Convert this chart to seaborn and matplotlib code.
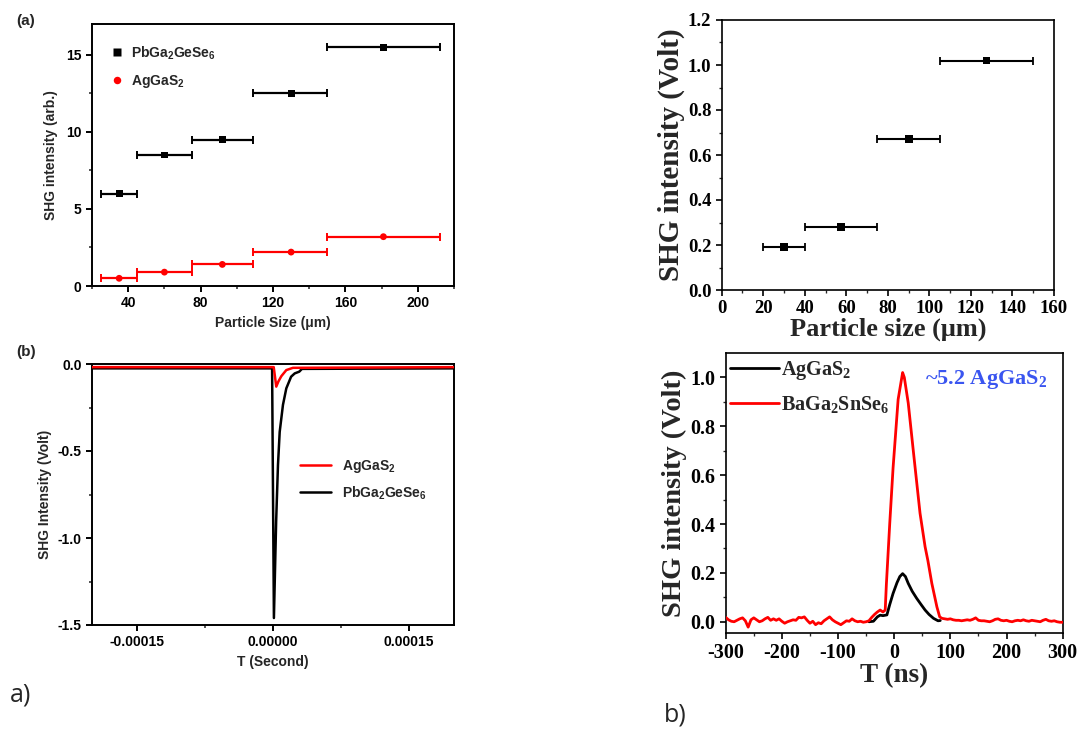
import numpy as np
import pandas as pd
import matplotlib
matplotlib.use("Agg")
import matplotlib.pyplot as plt
import seaborn as sns
from matplotlib.ticker import MultipleLocator, FixedLocator, StrMethodFormatter

# ---------------- data ----------------
# Panel (a): SHG vs particle size
a_size = [35, 60, 92, 130, 181]
a_size_lo = [25, 45, 75, 109, 150]
a_size_hi = [45, 75, 109, 150, 212]
a_pgs = [6.0, 8.5, 9.5, 12.5, 15.5]
a_ags = [0.5, 0.9, 1.4, 2.2, 3.2]

# Panel (b): oscilloscope traces (seconds, volts)
b_t_pgs = [-0.0002, -0.000001, 0.000001, 0.0000035, 0.0000055, 0.0000074,
           0.000011, 0.0000147, 0.00002, 0.000024, 0.000029, 0.000032, 0.0002]
b_v_pgs = [-0.025, -0.025, -1.46, -0.9, -0.58, -0.39,
           -0.235, -0.14, -0.073, -0.054, -0.044, -0.028, -0.025]
b_t_ags = [-0.0002, 0.0000008, 0.0000036, 0.000006, 0.0000092, 0.0000147, 0.000022, 0.0002]
b_v_ags = [-0.018, -0.018, -0.13, -0.1, -0.07, -0.035, -0.022, -0.018]

# Panel (c): SHG vs particle size
c_size = [30, 57.5, 90, 127.5]
c_size_lo = [20, 40, 75, 105]
c_size_hi = [40, 75, 105, 150]
c_int = [0.19, 0.28, 0.67, 1.02]

# Panel (d): oscilloscope traces (ns, volts)
d_t_bgs = [-300, -295, -290, -285, -280, -275, -270, -265, -260, -255, -250, -245,
           -240, -235, -230, -225, -220, -215, -210, -205, -200, -195, -190, -185,
           -180, -175, -170, -165, -160, -155, -150, -145, -140, -135, -130, -125,
           -120, -115, -110, -105, -100, -95, -90, -85, -80, -75, -70, -65, -60,
           -55, -50, -45, -40, -35, -30, -25, -20, -16, -14, -8, -2, 7, 15, 18,
           25, 34, 46, 55, 60, 67, 76, 81, 85, 90, 95, 100, 105, 110, 115, 120,
           125, 130, 135, 140, 145, 150, 155, 160, 165, 170, 175, 180, 185, 190,
           195, 200, 205, 210, 215, 220, 225, 230, 235, 240, 245, 250, 255, 260,
           265, 270, 275, 280, 285, 290, 295, 300]
d_v_bgs = [0.018, 0.008, 0.002, 0.0, 0.006, 0.012, 0.016, 0.004, -0.022, 0.008, 0.016, 0.008,
           0.0, 0.004, 0.012, 0.018, 0.006, 0.012, 0.006, 0.012, 0.002, -0.006, 0.0, 0.004,
           0.008, 0.006, 0.018, 0.016, 0.02, 0.006, -0.006, 0.002, -0.012, -0.004, -0.008, 0.004,
           0.012, 0.02, 0.008, 0.0, -0.006, -0.012, -0.004, 0.004, 0.002, 0.012, 0.004, 0.0, 0.002,
           -0.002, 0.0, 0.004, 0.018, 0.03, 0.04, 0.048, 0.04, 0.048, 0.15, 0.4, 0.63, 0.91, 1.02, 1.0,
           0.895, 0.70, 0.444, 0.307, 0.25, 0.157, 0.061, 0.02, 0.014, 0.012, 0.010, 0.012, 0.008, 0.006, 0.006, 0.004,
           0.006, 0.008, 0.006, 0.01, 0.016, 0.006, 0.004, 0.004, 0.002, 0.0, 0.004, 0.01, 0.012, 0.006,
           0.004, 0.006, 0.002, 0.0, 0.004, 0.006, 0.004, 0.008, 0.004, 0.002, 0.006, 0.004, 0.002, 0.0,
           0.006, 0.01, 0.004, 0.002, 0.004, 0.0, -0.002, -0.002]
d_t_ags = [-45, -37, -30, -25, -20, -13, -8, -2, 5, 10, 15, 20, 25, 32, 40, 48, 55, 62, 70, 78, 82]
d_v_ags = [0.0, 0.002, 0.02, 0.027, 0.025, 0.028, 0.07, 0.116, 0.16, 0.185, 0.197, 0.185,
           0.157, 0.125, 0.096, 0.07, 0.048, 0.03, 0.014, 0.004, 0.005]

# ---------------- style ----------------
sns.set_theme(style="ticks")
plt.rcParams["font.family"] = ["Liberation Sans", "DejaVu Sans"]
plt.rcParams["font.weight"] = "bold"
plt.rcParams["axes.labelweight"] = "bold"
plt.rcParams["mathtext.default"] = "regular"
plt.rcParams["axes.unicode_minus"] = False

W, H = 1079, 731
fig = plt.figure(figsize=(W / 100, H / 100), dpi=100)


def rect(x0, y0, x1, y1):
    return [x0 / W, 1 - y1 / H, (x1 - x0) / W, (y1 - y0) / H]


def style_axes(ax, lw, fam, tsize):
    for s in ax.spines.values():
        s.set_linewidth(lw)
        s.set_color("black")
    ax.tick_params(which="major", direction="out", length=4, width=lw,
                   labelsize=tsize, labelfontfamily=fam, colors="black")
    ax.tick_params(which="minor", direction="out", length=2.5, width=lw * 0.8)
    ax.tick_params(top=False, right=False, which="both")


# ---------- Panel (a) ----------
axA = fig.add_axes(rect(92, 24, 454, 286))
dfa = pd.DataFrame({"size": a_size * 2, "shg": a_pgs + a_ags,
                    "sample": ["PbGa$_2$GeSe$_6$"] * 5 + ["AgGaS$_2$"] * 5})
xerr = [np.array(a_size) - np.array(a_size_lo), np.array(a_size_hi) - np.array(a_size)]
axA.errorbar(a_size, a_pgs, xerr=xerr, fmt="none", ecolor="black", elinewidth=1.6,
             capsize=3, capthick=1.4)
axA.errorbar(a_size, a_ags, xerr=xerr, fmt="none", ecolor="red", elinewidth=1.6,
             capsize=3, capthick=1.4)
sns.scatterplot(data=dfa, x="size", y="shg", hue="sample", style="sample",
                palette={"PbGa$_2$GeSe$_6$": "black", "AgGaS$_2$": "red"},
                markers={"PbGa$_2$GeSe$_6$": "s", "AgGaS$_2$": "o"},
                s=24, edgecolor="none", ax=axA, zorder=3)
axA.set_xlim(20, 220)
axA.set_ylim(0, 17)
axA.xaxis.set_major_locator(MultipleLocator(40))
axA.xaxis.set_minor_locator(MultipleLocator(20))
axA.yaxis.set_major_locator(MultipleLocator(5))
axA.yaxis.set_minor_locator(MultipleLocator(2.5))
style_axes(axA, 1.4, "Liberation Sans", 10)
axA.set_xlabel("Particle Size (\u03bcm)", fontsize=10, fontweight="bold", labelpad=4)
axA.set_ylabel("SHG intensity (arb.)", fontsize=10, fontweight="bold", labelpad=6)
axA.legend(loc="upper left", bbox_to_anchor=(0.016, 0.97), frameon=False,
           fontsize=10, handlelength=1.0, handletextpad=0.5, labelspacing=0.8,
           markerscale=1.1)
fig.text(16 / W, 1 - 21 / H, "(a)", fontsize=11, fontweight="bold", va="center")

# ---------- Panel (b) ----------
axB = fig.add_axes(rect(92, 364, 454, 625))
dfb1 = pd.DataFrame({"t": b_t_pgs, "v": b_v_pgs})
dfb2 = pd.DataFrame({"t": b_t_ags, "v": b_v_ags})
sns.lineplot(data=dfb1, x="t", y="v", sort=False, estimator=None, color="black",
             lw=1.8, ax=axB, label="PbGa$_2$GeSe$_6$", zorder=2)
sns.lineplot(data=dfb2, x="t", y="v", sort=False, estimator=None, color="red",
             lw=1.8, ax=axB, label="AgGaS$_2$", zorder=3)
axB.set_xlim(-0.0002, 0.0002)
axB.set_ylim(-1.5, 0.0)
axB.xaxis.set_major_locator(FixedLocator([-0.00015, 0.0, 0.00015]))
axB.xaxis.set_minor_locator(FixedLocator([-0.000075, 0.000075]))
axB.xaxis.set_major_formatter(StrMethodFormatter("{x:.5f}"))
axB.yaxis.set_major_locator(MultipleLocator(0.5))
axB.yaxis.set_minor_locator(MultipleLocator(0.25))
axB.yaxis.set_major_formatter(StrMethodFormatter("{x:.1f}"))
style_axes(axB, 1.4, "Liberation Sans", 10)
axB.set_xlabel("T (Second)", fontsize=10, fontweight="bold", labelpad=4)
axB.set_ylabel("SHG Intensity (Volt)", fontsize=10, fontweight="bold", labelpad=4)
h, l = axB.get_legend_handles_labels()
axB.legend([h[1], h[0]], [l[1], l[0]], loc="center left", bbox_to_anchor=(0.54, 0.557),
           frameon=False, fontsize=10, handlelength=2.2, handletextpad=0.8, labelspacing=0.7)
fig.text(16 / W, 1 - 352 / H, "(b)", fontsize=11, fontweight="bold", va="center")

# ---------- Panel (c) ----------
axC = fig.add_axes(rect(721.7, 20, 1054, 290))
cerr = [np.array(c_size) - np.array(c_size_lo), np.array(c_size_hi) - np.array(c_size)]
axC.errorbar(c_size, c_int, xerr=cerr, fmt="none", ecolor="black", elinewidth=1.5,
             capsize=3, capthick=1.3)
sns.scatterplot(x=c_size, y=c_int, marker="s", color="black", s=32, edgecolor="none",
                ax=axC, zorder=3)
axC.set_xlim(0, 160)
axC.set_ylim(0, 1.2)
axC.xaxis.set_major_locator(MultipleLocator(20))
axC.xaxis.set_minor_locator(MultipleLocator(10))
axC.yaxis.set_major_locator(MultipleLocator(0.2))
axC.yaxis.set_minor_locator(MultipleLocator(0.1))
axC.yaxis.set_major_formatter(StrMethodFormatter("{x:.1f}"))
style_axes(axC, 1.2, "Liberation Serif", 13.5)
axC.set_xlabel("Particle size (\u03bcm)", fontsize=19, fontweight="bold",
               fontfamily="Liberation Serif", labelpad=0)
axC.set_ylabel("SHG intensity (Volt)", fontsize=21, fontweight="bold",
               fontfamily="Liberation Serif", labelpad=2)

# ---------- Panel (d) ----------
axD = fig.add_axes(rect(725.7, 353, 1062.7, 633))
dfd1 = pd.DataFrame({"t": d_t_ags, "v": d_v_ags})
dfd2 = pd.DataFrame({"t": d_t_bgs, "v": d_v_bgs})
sns.lineplot(data=dfd1, x="t", y="v", sort=False, estimator=None, color="black",
             lw=2.0, ax=axD, label="AgGaS$_2$", zorder=2)
sns.lineplot(data=dfd2, x="t", y="v", sort=False, estimator=None, color="red",
             lw=2.0, ax=axD, label="BaGa$_2$SnSe$_6$", zorder=3)
axD.set_xlim(-300, 300)
axD.set_ylim(-0.046, 1.1)
axD.xaxis.set_major_locator(MultipleLocator(100))
axD.xaxis.set_minor_locator(MultipleLocator(50))
axD.yaxis.set_major_locator(FixedLocator([0.0, 0.2, 0.4, 0.6, 0.8, 1.0]))
axD.yaxis.set_minor_locator(FixedLocator([0.1, 0.3, 0.5, 0.7, 0.9]))
axD.yaxis.set_major_formatter(StrMethodFormatter("{x:.1f}"))
style_axes(axD, 1.2, "Liberation Serif", 14.5)
axD.set_xlabel("T (ns)", fontsize=19.5, fontweight="bold",
               fontfamily="Liberation Serif", labelpad=0)
axD.set_ylabel("SHG intensity (Volt)", fontsize=20.5, fontweight="bold",
               fontfamily="Liberation Serif", labelpad=2)
axD.legend(loc="upper left", bbox_to_anchor=(-0.04, 1.042), frameon=False,
           prop={"family": "Liberation Serif", "weight": "bold", "size": 14.5},
           handlelength=2.4, handletextpad=0.1, labelspacing=0.6)
axD.text(0.59, 0.905, "~5.2 AgGaS$_2$", transform=axD.transAxes, color="#3a55f0",
         fontsize=16, fontweight="bold", fontfamily="Liberation Serif", va="center")

# panel group labels
fig.text(10 / W, 1 - 695 / H, "a)", fontsize=18, fontweight="normal",
         fontfamily="Open Sans", va="center")
fig.text(664 / W, 1 - 715 / H, "b)", fontsize=18, fontweight="normal",
         fontfamily="Open Sans", va="center")

fig.savefig("out.png", dpi=100)
